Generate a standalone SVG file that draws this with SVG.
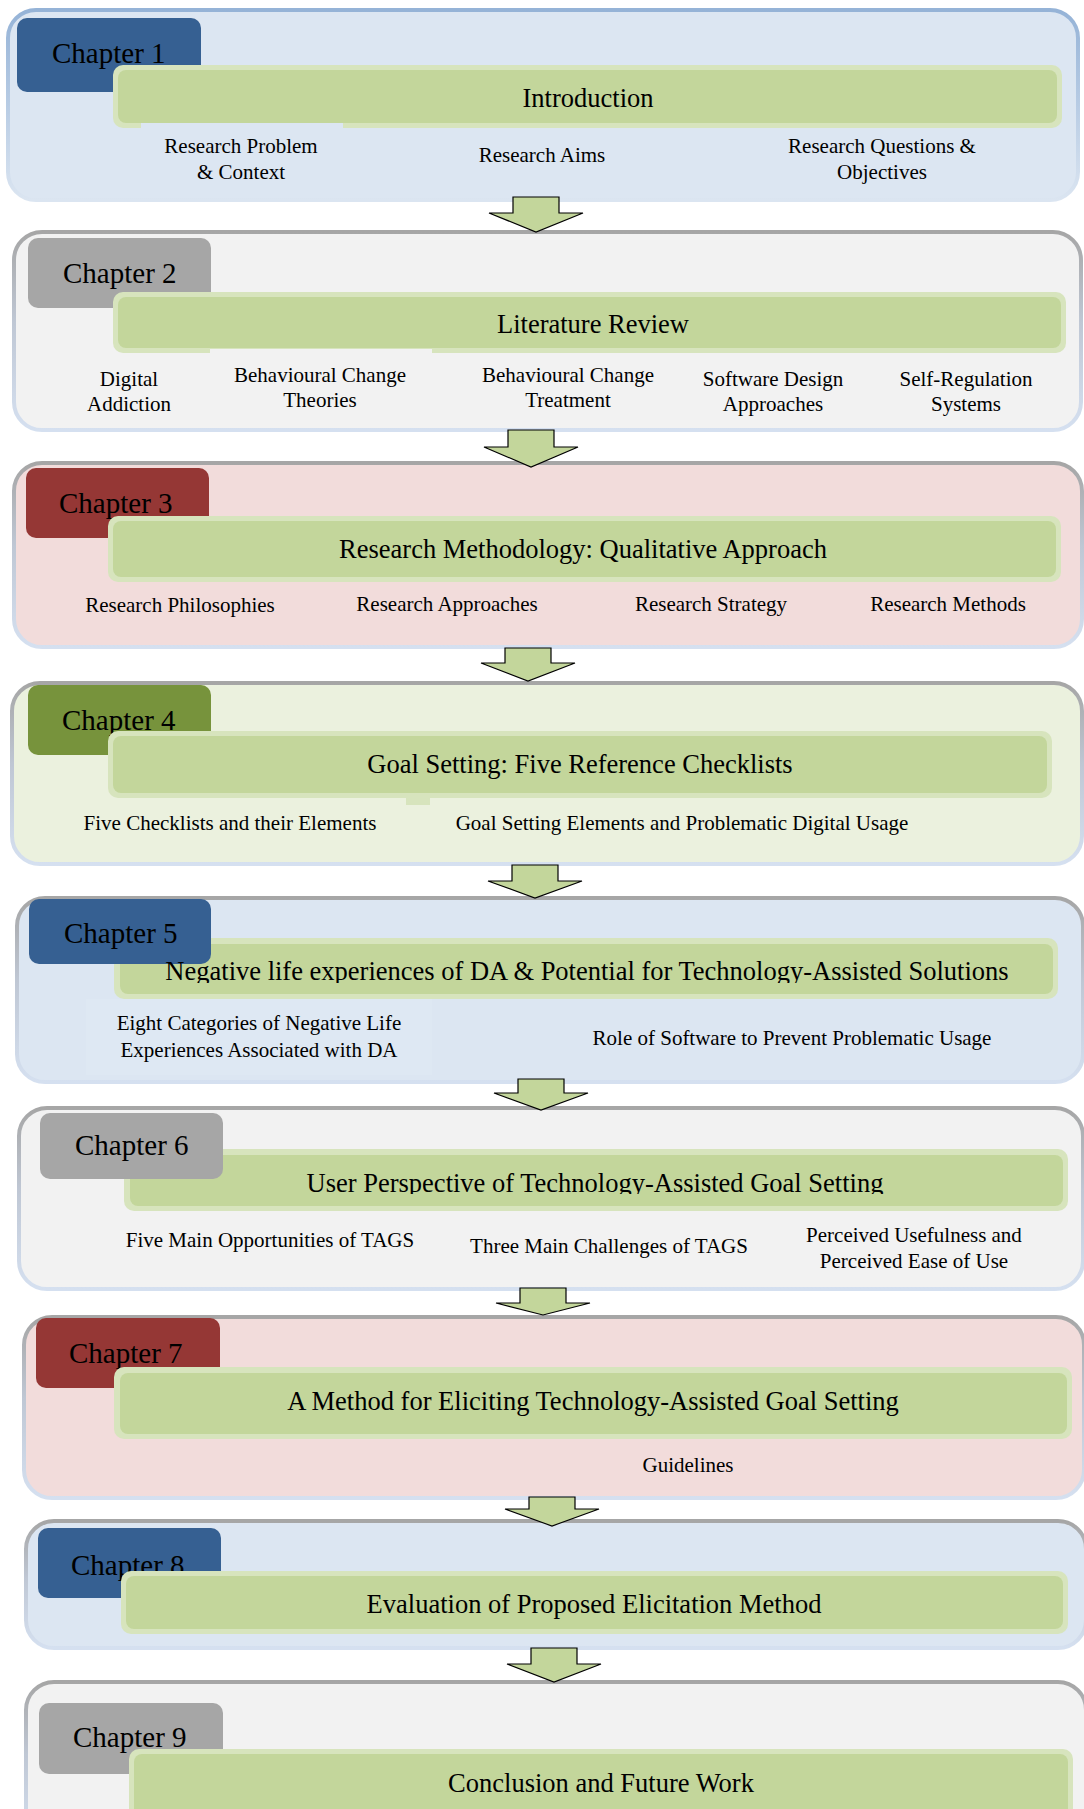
<svg xmlns="http://www.w3.org/2000/svg" width="1084" height="1809" viewBox="0 0 1084 1809">
<defs>
<linearGradient id="gBlue" x1="0" y1="0" x2="0" y2="1">
<stop offset="0" stop-color="#95b3d7"/><stop offset="0.5" stop-color="#b8cce4"/><stop offset="1" stop-color="#dbe5f1"/>
</linearGradient>
<linearGradient id="gGray" x1="0" y1="0" x2="0" y2="1">
<stop offset="0" stop-color="#a6a6a6"/><stop offset="0.45" stop-color="#bfc7d4"/><stop offset="1" stop-color="#d5e0f0"/>
</linearGradient>
<clipPath id="clip5"><rect x="0" y="900" width="1084" height="83"/></clipPath>
<clipPath id="clip6"><rect x="0" y="1110" width="1084" height="84"/></clipPath>
</defs>
<style>
.box{stroke-width:4}
.bl{stroke:url(#gBlue)}
.gr{stroke:url(#gGray)}
.tab{stroke:none}
.bo{fill:#d7e4bd}
.bi{fill:#c3d69b}
.ch{font-family:"Liberation Serif","Times New Roman",serif;font-size:29px;fill:#000}
.ti{font-family:"Liberation Serif","Times New Roman",serif;font-size:26.5px;fill:#000;text-anchor:middle}
.sb{font-family:"Liberation Serif","Times New Roman",serif;font-size:21px;fill:#000;text-anchor:middle}
.arr{fill:#c3d69b;stroke:#000;stroke-width:1.2;stroke-linejoin:miter}
</style>

<g id="chapter1">
<rect class="box bl" x="8" y="10" width="1070" height="190" rx="28" fill="#dce6f2"/>
<rect class="tab" x="17" y="18" width="184" height="74" rx="10" fill="#366092"/>
<text class="ch" x="52" y="63">Chapter 1</text>
<rect class="bo" x="113" y="65" width="949" height="63" rx="10"/>
<rect class="bi" x="118" y="70" width="939" height="53" rx="8"/>
<rect x="141" y="123" width="202" height="5" fill="#dce6f2"/>
<text class="ti" x="588" y="107">Introduction</text>
<text class="sb" x="241" y="153">Research Problem</text>
<text class="sb" x="241" y="179">&amp; Context</text>
<text class="sb" x="542" y="162">Research Aims</text>
<text class="sb" x="882" y="153">Research Questions &amp;</text>
<text class="sb" x="882" y="179">Objectives</text>
</g>

<g id="chapter2">
<rect class="box gr" x="14" y="232" width="1067" height="198" rx="28" fill="#f2f2f2"/>
<rect class="tab" x="28" y="238" width="183" height="70" rx="10" fill="#a6a6a6"/>
<text class="ch" x="63" y="283">Chapter 2</text>
<rect class="bo" x="113" y="292" width="953" height="61" rx="10"/>
<rect class="bi" x="118" y="297" width="943" height="51" rx="8"/>
<rect x="210" y="349" width="222" height="4" fill="#f2f2f2"/>
<text class="ti" x="593" y="333">Literature Review</text>
<text class="sb" x="129" y="386">Digital</text>
<text class="sb" x="129" y="411">Addiction</text>
<text class="sb" x="320" y="382">Behavioural Change</text>
<text class="sb" x="320" y="407">Theories</text>
<text class="sb" x="568" y="382">Behavioural Change</text>
<text class="sb" x="568" y="407">Treatment</text>
<text class="sb" x="773" y="386">Software Design</text>
<text class="sb" x="773" y="411">Approaches</text>
<text class="sb" x="966" y="386">Self-Regulation</text>
<text class="sb" x="966" y="411">Systems</text>
</g>

<g id="chapter3">
<rect class="box gr" x="14" y="463" width="1068" height="184" rx="28" fill="#f2dcdb"/>
<rect class="tab" x="26" y="468" width="183" height="70" rx="10" fill="#953735"/>
<text class="ch" x="59" y="513">Chapter 3</text>
<rect class="bo" x="108" y="516" width="953" height="66" rx="10"/>
<rect class="bi" x="113" y="521" width="943" height="56" rx="8"/>
<text class="ti" x="583" y="558">Research Methodology: Qualitative Approach</text>
<text class="sb" x="180" y="612">Research Philosophies</text>
<text class="sb" x="447" y="611">Research Approaches</text>
<text class="sb" x="711" y="611">Research Strategy</text>
<text class="sb" x="948" y="611">Research Methods</text>
</g>

<g id="chapter4">
<rect class="box gr" x="12" y="683" width="1070" height="181" rx="28" fill="#ebf1de"/>
<rect class="tab" x="28" y="685" width="183" height="70" rx="10" fill="#77933c"/>
<text class="ch" x="62" y="730">Chapter 4</text>
<rect class="bo" x="108" y="731" width="944" height="67" rx="10"/>
<rect class="bi" x="113" y="736" width="934" height="57" rx="8"/>
<rect x="406" y="797" width="24" height="8" fill="#d7e4bd"/>
<text class="ti" x="580" y="773">Goal Setting: Five Reference Checklists</text>
<text class="sb" x="230" y="830">Five Checklists and their Elements</text>
<text class="sb" x="682" y="830">Goal Setting Elements and Problematic Digital Usage</text>
</g>

<g id="chapter5">
<rect class="box gr" x="17" y="898" width="1066" height="184" rx="28" fill="#dce6f2"/>
<rect x="86" y="999" width="346" height="76" fill="#dee8f3"/>
<rect class="bo" x="114" y="938" width="944" height="61" rx="10"/>
<rect class="bi" x="120" y="944" width="933" height="50" rx="8"/>
<rect class="tab" x="29" y="899" width="182" height="65" rx="10" fill="#366092"/>
<text class="ch" x="64" y="943">Chapter 5</text>
<text class="ti" x="587" y="980" clip-path="url(#clip5)">Negative life experiences of DA &amp; Potential for Technology-Assisted Solutions</text>
<text class="sb" x="259" y="1030">Eight Categories of Negative Life</text>
<text class="sb" x="259" y="1057">Experiences Associated with DA</text>
<text class="sb" x="792" y="1045">Role of Software to Prevent Problematic Usage</text>
</g>

<g id="chapter6">
<rect class="box gr" x="19" y="1108" width="1064" height="181" rx="28" fill="#f2f2f2"/>
<rect class="bo" x="124" y="1149" width="944" height="62" rx="10"/>
<rect class="bi" x="130" y="1155" width="933" height="51" rx="8"/>
<rect class="tab" x="40" y="1113" width="183" height="66" rx="10" fill="#a6a6a6"/>
<text class="ch" x="75" y="1155">Chapter 6</text>
<text class="ti" x="595" y="1192" clip-path="url(#clip6)">User Perspective of Technology-Assisted Goal Setting</text>
<text class="sb" x="270" y="1247">Five Main Opportunities of TAGS</text>
<text class="sb" x="609" y="1253">Three Main Challenges of TAGS</text>
<text class="sb" x="914" y="1242">Perceived Usefulness and</text>
<text class="sb" x="914" y="1268">Perceived Ease of Use</text>
</g>

<g id="chapter7">
<rect class="box gr" x="24" y="1317" width="1060" height="181" rx="28" fill="#f2dcdb"/>
<rect class="tab" x="36" y="1318" width="184" height="70" rx="10" fill="#953735"/>
<text class="ch" x="69" y="1363">Chapter 7</text>
<rect class="bo" x="114" y="1367" width="958" height="72" rx="10"/>
<rect class="bi" x="120" y="1373" width="947" height="61" rx="8"/>
<text class="ti" x="593" y="1410">A Method for Eliciting Technology-Assisted Goal Setting</text>
<text class="sb" x="688" y="1472">Guidelines</text>
</g>

<g id="chapter8">
<rect class="box gr" x="26" y="1521" width="1060" height="127" rx="28" fill="#dce6f2"/>
<rect class="tab" x="38" y="1528" width="183" height="70" rx="10" fill="#366092"/>
<text class="ch" x="71" y="1575">Chapter 8</text>
<rect class="bo" x="121" y="1571" width="947" height="63" rx="10"/>
<rect class="bi" x="126" y="1576" width="937" height="53" rx="8"/>
<text class="ti" x="594" y="1613">Evaluation of Proposed Elicitation Method</text>
</g>

<g id="chapter9">
<rect class="box gr" x="26" y="1682" width="1060" height="160" rx="28" fill="#f2f2f2"/>
<rect class="tab" x="39" y="1703" width="184" height="71" rx="10" fill="#a6a6a6"/>
<text class="ch" x="73" y="1747">Chapter 9</text>
<rect class="bo" x="129" y="1749" width="944" height="80" rx="10"/>
<rect class="bi" x="134" y="1754" width="934" height="70" rx="8"/>
<text class="ti" x="601" y="1792">Conclusion and Future Work</text>
</g>

<g id="connectors">
<path class="arr" d="M513,197 H559 V213 H583 L536,232 L489,213 H513 Z"/>
<path class="arr" d="M508,430 H554 V447 H578 L531,467 L484,447 H508 Z"/>
<path class="arr" d="M505,648 H551 V663 H575 L528,681 L481,663 H505 Z"/>
<path class="arr" d="M512,865 H558 V881 H582 L535,898 L488,881 H512 Z"/>
<path class="arr" d="M518,1079 H564 V1093 H588 L541,1110 L494,1093 H518 Z"/>
<path class="arr" d="M520,1288 H566 V1303 H590 L543,1315 L496,1303 H520 Z"/>
<path class="arr" d="M529,1497 H575 V1509 H599 L552,1526 L505,1509 H529 Z"/>
<path class="arr" d="M531,1648 H577 V1664 H601 L554,1682 L507,1664 H531 Z"/>
</g>
</svg>
